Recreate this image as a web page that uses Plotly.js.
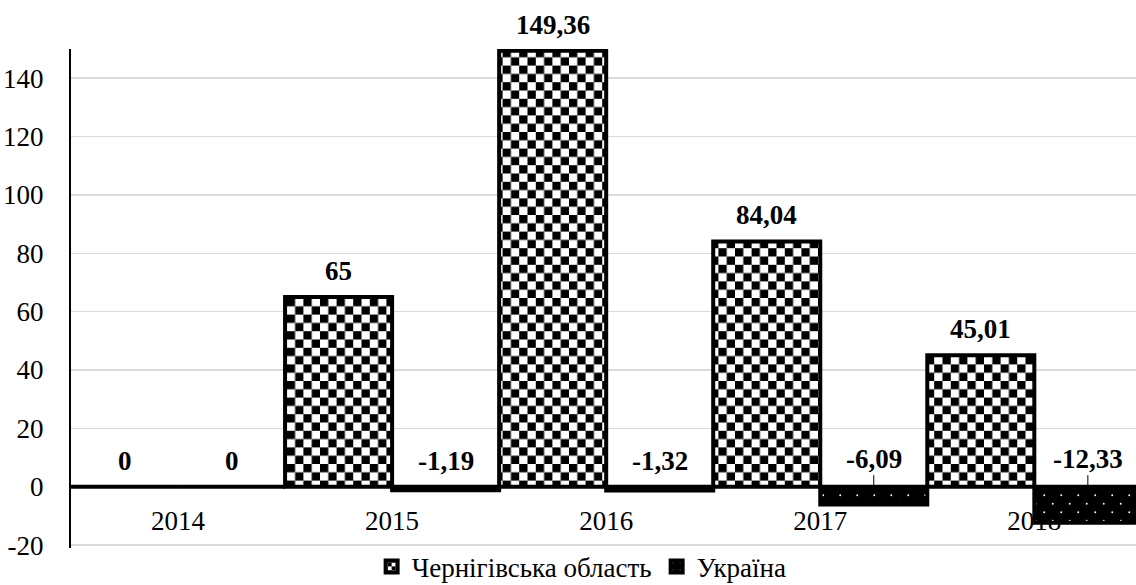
<!DOCTYPE html>
<html><head><meta charset="utf-8">
<script src="https://cdn.plot.ly/plotly-3.0.1.min.js"></script>
<style>html,body{margin:0;padding:0;background:#fff;overflow:hidden}#chart{width:1136px;height:585px}</style>
</head><body><div id="chart"></div>
<script>
const years = ['2014', '2015', '2016', '2017', '2018'];
const chernihiv = [0, 65, 149.36, 84.04, 45.01];
const ukraine = [0, -1.19, -1.32, -6.09, -12.33];
const seriesNames = ['Чернігівська область', 'Україна'];
const yTickValues = [-20, 0, 20, 40, 60, 80, 100, 120, 140];
const yTickLabels = ['-20', '0', '20', '40', '60', '80', '100', '120', '140'];

const FONT = '"Liberation Serif", "DejaVu Serif", "Times New Roman", serif';
const idx = years.map((_, i) => i);
const fmt = v => String(v).replace('.', ',');

const traces = [
  {type: 'bar', name: seriesNames[0], x: idx, y: chernihiv, hoverinfo: 'skip',
   marker: {color: '#fff', line: {color: '#000', width: 4},
            pattern: {shape: '+', fgcolor: '#000', bgcolor: '#fff', size: 16.6, solidity: 0.5}}},
  {type: 'bar', name: seriesNames[1], x: idx, y: ukraine, hoverinfo: 'skip',
   marker: {color: '#000', line: {color: '#000', width: 4},
            pattern: {shape: '.', fgcolor: '#fff', bgcolor: '#000', size: 12, solidity: 0.025}}}
];

const annotations = [];
[chernihiv, ukraine].forEach((vals, s) => {
  vals.forEach((v, i) => {
    const xPos = i + (s === 0 ? -0.25 : 0.25);
    const leader = v < -5;
    const a = {x: xPos, y: Math.max(v, 0), xref: 'x', yref: 'y', text: '<b>' + fmt(v) + '</b>',
               font: {family: FONT, size: 27, color: '#000'}};
    if (leader) {
      Object.assign(a, {showarrow: true, arrowhead: 0, arrowwidth: 1, arrowcolor: '#000', ax: 0, ay: -28});
    } else {
      Object.assign(a, {showarrow: false, yanchor: 'middle', yshift: 26});
    }
    annotations.push(a);
  });
});

const layout = {
  width: 1136, height: 585,
  margin: {l: 71, r: 0, t: 49, b: 37, pad: 0, autoexpand: false},
  paper_bgcolor: '#fff', plot_bgcolor: '#fff',
  barmode: 'group', bargap: 0, bargroupgap: 0,
  font: {family: FONT, size: 27, color: '#000'},
  xaxis: {range: [-0.5, 4.475], tickmode: 'array', tickvals: idx, ticktext: years,
          showgrid: false, zeroline: false, showline: false, ticks: '',
          ticklabelstandoff: -46, layer: 'below traces',
          tickfont: {family: FONT, size: 27, color: '#000'}, fixedrange: true},
  yaxis: {range: [-21, 150], tickmode: 'array', tickvals: yTickValues, ticktext: yTickLabels,
          showgrid: true, gridcolor: '#d9d9d9', gridwidth: 1.5,
          zeroline: true, zerolinecolor: '#000', zerolinewidth: 2,
          showline: true, linecolor: '#000', linewidth: 2, ticks: '', ticklabelstandoff: 20,
          tickfont: {family: FONT, size: 27, color: '#000'}, fixedrange: true},
  showlegend: true,
  legend: {orientation: 'h', xref: 'container', yref: 'container', x: 0.512, xanchor: 'center',
           y: 0.031, yanchor: 'middle', font: {family: FONT, size: 27, color: '#000'},
           itemwidth: 30, traceorder: 'normal', bgcolor: 'rgba(0,0,0,0)'},
  annotations: annotations
};

function fixPatterns() {
  const NS = 'http://www.w3.org/2000/svg';
  const mk = (t, attrs) => { const e = document.createElementNS(NS, t); for (const k in attrs) e.setAttribute(k, attrs[k]); return e; };
  document.querySelectorAll('#chart pattern').forEach(p => {
    if (p.getAttribute('data-fixed')) return;
    const path = p.querySelector('path');
    const circ = p.querySelector('circle');
    const w = parseFloat(p.getAttribute('width'));
    if (path) {
      while (p.firstChild) p.removeChild(p.firstChild);
      const a = w / 2;
      p.appendChild(mk('rect', {x: 0, y: 0, width: w, height: w, fill: '#fff'}));
      p.appendChild(mk('rect', {x: 0, y: 0, width: a, height: a, fill: '#000'}));
      p.appendChild(mk('rect', {x: a, y: a, width: a, height: a, fill: '#000'}));
      p.setAttribute('data-fixed', '1');
    } else if (circ && w > 11) {
      while (p.firstChild) p.removeChild(p.firstChild);
      const t = 17;
      p.setAttribute('width', t); p.setAttribute('height', t);
      p.appendChild(mk('rect', {x: 0, y: 0, width: t, height: t, fill: '#000'}));
      p.appendChild(mk('circle', {cx: 4.25, cy: 4.25, r: 0.95, fill: '#fff'}));
      p.appendChild(mk('circle', {cx: 12.75, cy: 12.75, r: 0.95, fill: '#fff'}));
      p.setAttribute('data-fixed', '1');
    }
  });
}

const gd = document.getElementById('chart');
Plotly.newPlot(gd, traces, layout, {staticPlot: true, displayModeBar: false}).then(fixPatterns);
fixPatterns();
setTimeout(fixPatterns, 100);
</script>
</body></html>
